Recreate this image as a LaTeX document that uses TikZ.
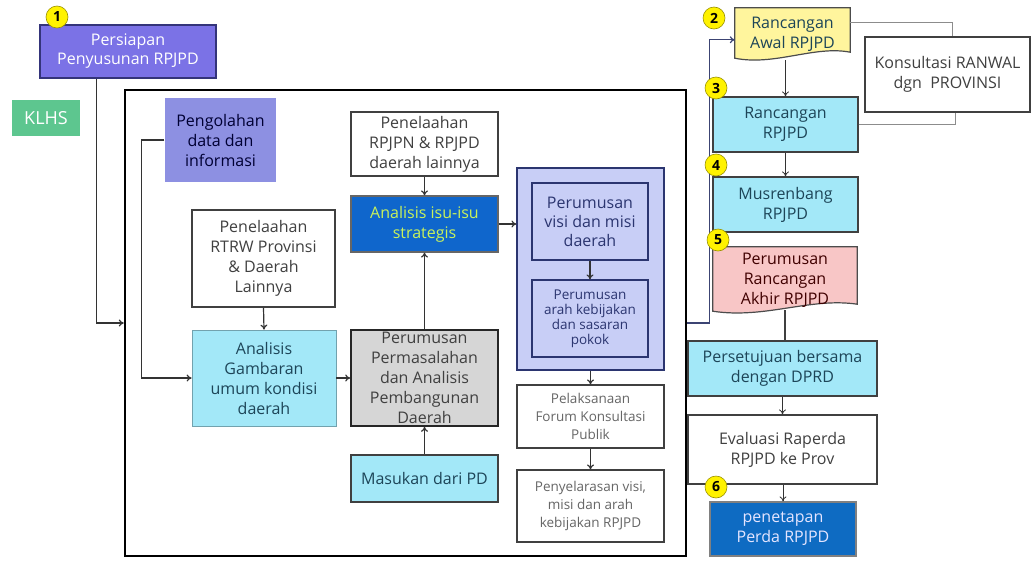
\documentclass[tikz,border=0pt]{standalone}
\usepackage{fontspec}
\setmainfont{Open Sans}
\usetikzlibrary{positioning,calc,backgrounds,arrows.meta}

\definecolor{ungu}{HTML}{7B72E6}
\definecolor{ungutepi}{HTML}{34347A}
\definecolor{hijau}{HTML}{5DC68F}
\definecolor{lavender}{HTML}{8D90E2}
\definecolor{biru}{HTML}{A3E8F8}
\definecolor{abu}{HTML}{D6D6D6}
\definecolor{birutua}{HTML}{0F66CC}
\definecolor{kuninghijau}{HTML}{C9F25A}
\definecolor{visi}{HTML}{C8CEF6}
\definecolor{visitepi}{HTML}{2B3570}
\definecolor{kuning}{HTML}{FFF59D}
\definecolor{merahmuda}{HTML}{F8C6C6}
\definecolor{tetap}{HTML}{0E6BC2}
\definecolor{nomor}{HTML}{FFF200}
\definecolor{teksgelap}{HTML}{1D4558}

\begin{document}
\begin{tikzpicture}[x=1pt,y=-1pt,>={To[length=5pt,width=7pt]},
  blok/.style={draw=black!75, line width=1.2pt, align=center, inner sep=2pt,
    text=teksgelap, font=\fontsize{16}{20}\selectfont},
  putih/.style={blok, fill=white, text=black!75},
  cyan/.style={blok, fill=biru},
  doktext/.style={align=center, inner sep=2pt, text=teksgelap, font=\fontsize{16}{20}\selectfont},
  docu/.style={draw=black!70, line width=1.2pt},
  nomorbulat/.style={circle, fill=nomor, draw=nomor!60!black, line width=0.6pt,
    minimum size=22pt, inner sep=0pt, font=\fontsize{14}{14}\selectfont\bfseries},
  panah/.style={->, line width=1.2pt, black!80},
  garis/.style={line width=1pt, black!45}]
\useasboundingbox (0,0) rectangle (1036,560);

% kiri atas
\node[blok, fill=ungu, draw=ungutepi, text=white, minimum width=176pt, minimum height=53pt,
  font=\fontsize{16}{19}\selectfont] (prep) at (128,51.5) {Persiapan\\Penyusunan RPJPD};
\node[blok, draw=none, fill=hijau, text=white, minimum width=68pt, minimum height=36pt,
  font=\fontsize{18}{18}\selectfont] (klhs) at (46,118) {KLHS};

% kotak utama
\node[draw, line width=2.4pt, minimum width=561pt, minimum height=466pt] (utama) at (405.5,323) {};
\node[blok, fill=lavender, draw=none, text=black!80!blue, minimum width=111pt, minimum height=84pt] (olah) at (220.5,140) {Pengolahan\\data dan\\informasi};
\node[putih, minimum width=143pt, minimum height=97pt] (rtrw) at (263.5,258.5) {Penelaahan\\RTRW Provinsi\\\& Daerah\\Lainnya};
\node[cyan, draw=biru!70!black, line width=0.8pt, minimum width=144pt, minimum height=96pt] (gambar) at (264,378) {Analisis\\Gambaran\\umum kondisi\\daerah};
\node[blok, fill=abu, draw=black!85, line width=1.6pt, text=black!75, minimum width=147pt, minimum height=96pt] (masalah) at (424.5,378) {Perumusan\\Permasalahan\\dan Analisis\\Pembangunan\\Daerah};
\node[cyan, minimum width=147pt, minimum height=47pt] (pd) at (424.5,478.5) {Masukan dari PD};
\node[putih, minimum width=147pt, minimum height=64pt] (rpjpn) at (424.5,144) {Penelaahan\\RPJPN \& RPJPD\\daerah lainnya};
\node[blok, fill=birutua, draw=black!60, text=kuninghijau, minimum width=147pt, minimum height=56pt] (isu) at (424.5,224) {Analisis isu-isu\\strategis};

% kelompok visi
\node[blok, fill=visi, draw=visitepi, minimum width=147pt, minimum height=202pt] (grup) at (590.5,269) {};
\node[blok, fill=visi, draw=visitepi, text=visitepi, minimum width=116pt, minimum height=77pt,
  font=\fontsize{16}{19}\selectfont] (visi) at (590,221.5) {Perumusan\\visi dan misi\\daerah};
\node[blok, fill=visi, draw=visitepi, text=visitepi, minimum width=116pt, minimum height=77pt,
  font=\fontsize{13.5}{15}\selectfont] (arah) at (590,318.5) {Perumusan\\arah kebijakan\\dan sasaran\\pokok};
\node[putih, text=black!60, minimum width=147pt, minimum height=63pt,
  font=\fontsize{13.5}{18}\selectfont] (forum) at (590.5,416.5) {Pelaksanaan\\Forum Konsultasi\\Publik};
\node[putih, text=black!60, minimum width=147pt, minimum height=72pt,
  font=\fontsize{13.5}{18}\selectfont] (selaras) at (590.5,506) {Penyelarasan visi,\\misi dan arah\\kebijakan RPJPD};

% kolom kanan
\node[doktext, minimum width=115pt, minimum height=52pt] (awal) at (792.5,34) {Rancangan\\Awal RPJPD};
\node[cyan, minimum width=145pt, minimum height=55pt] (ranc) at (785.5,124.5) {Rancangan\\RPJPD};
\node[cyan, minimum width=145pt, minimum height=55pt] (musren) at (785.5,204.5) {Musrenbang\\RPJPD};
\node[doktext, text=black!75!red, minimum width=144pt, minimum height=66pt] (akhir) at (785,280) {Perumusan\\Rancangan\\Akhir RPJPD};
\node[cyan, minimum width=189pt, minimum height=55pt] (setuju) at (782.5,368.5) {Persetujuan bersama\\dengan DPRD};
\node[putih, minimum width=189pt, minimum height=69pt] (eval) at (782.5,449.5) {Evaluasi Raperda\\RPJPD ke Prov};
\node[blok, fill=tetap, draw=black!50, text=blue!10, minimum width=146pt, minimum height=54pt] (tetap) at (783,529) {penetapan\\Perda RPJPD};
\node[putih, line width=1.8pt, minimum width=165pt, minimum height=75pt] (konsul) at (947.5,74.5) {Konsultasi RANWAL\\dgn~ PROVINSI};

\begin{scope}[on background layer]
  \draw[docu, fill=kuning] (awal.north west) -- (awal.north east) -- ($(awal.south east)+(0,-8)$)
    .. controls ($(awal.south)+(22,-15)$) and ($(awal.south)+(-18,6)$) .. ($(awal.south west)+(0,-2)$) -- cycle;
  \draw[docu, fill=merahmuda] (akhir.north west) -- (akhir.north east) -- ($(akhir.south east)+(0,-9)$)
    .. controls ($(akhir.south)+(25,-16)$) and ($(akhir.south)+(-20,6)$) .. ($(akhir.south west)+(0,-2)$) -- cycle;
\end{scope}

% penghubung
\draw[panah] ($(prep.south west)+(57,0)$) |- (utama.west);
\draw[panah] (olah.west) -- ++(-23,0) |- (gambar.west);
\path[panah] (rtrw.south) edge (gambar.north)
  (gambar.east) edge (masalah.west)
  (masalah.north) edge (isu.south)
  (pd.north) edge (masalah.south)
  (rpjpn.south) edge (isu.north)
  (isu.east) edge (isu.east -| grup.west)
  (visi.south) edge (arah.north)
  (grup.south) edge (forum.north)
  (forum.south) edge (selaras.north);
\draw[panah, visitepi!80!gray] (utama.east) -- ++(22,0) |- ($(awal.north west)+(0,32)$);
\path[panah, line width=0.8pt] (ranc.north |- awal.south) edge (ranc.north)
  (ranc.south) edge (musren.north)
  (setuju.south) edge (eval.north)
  (tetap.north |- eval.south) edge (tetap.north);
\draw[line width=1.2pt, black!75] ($(akhir.south)+(0,-3)$) -- (akhir.south |- setuju.north);
\draw[garis] ($(awal.north east)+(0,15)$) -| ($(konsul.north)+(5,0)$);
\draw[garis] (ranc.east) -| ($(konsul.south)+(8,0)$);

% nomor tahap
\node[nomorbulat] (n1) at (57,17) {1};
\node[nomorbulat] (n2) at (714,18) {2};
\node[nomorbulat] (n3) at (716,88) {3};
\node[nomorbulat] (n4) at (716,165) {4};
\node[nomorbulat] (n5) at (718,240) {5};
\node[nomorbulat] (n6) at (716,487) {6};
\end{tikzpicture}
\end{document}
